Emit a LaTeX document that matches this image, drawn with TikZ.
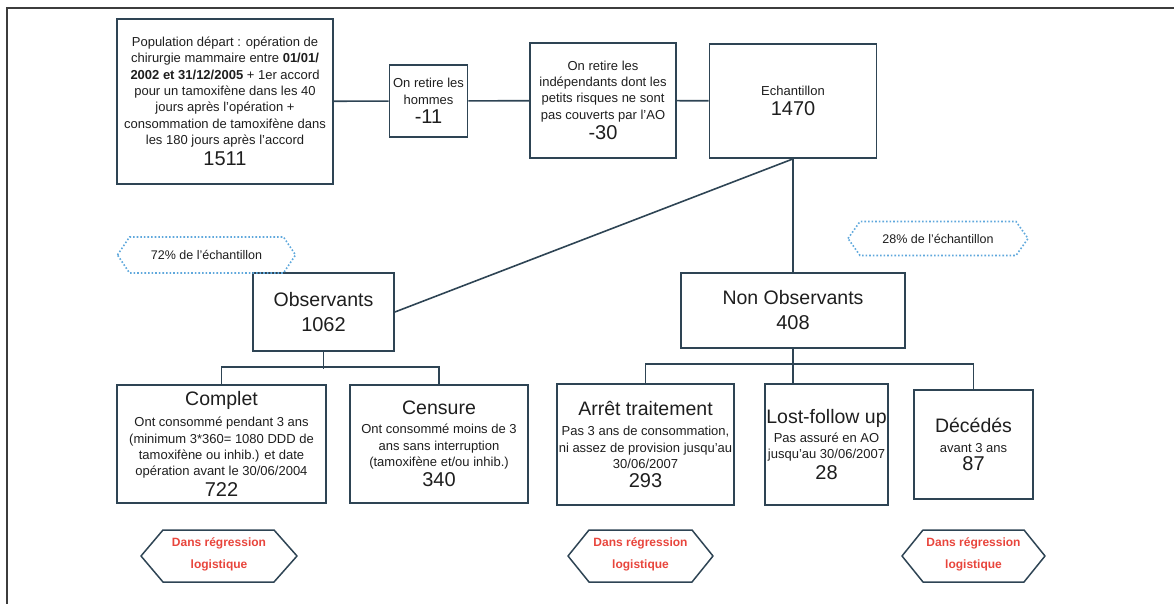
\documentclass[tikz,border=0pt]{standalone}
\usepackage{fontspec}
\setmainfont{Liberation Sans}
\usetikzlibrary{calc}
\definecolor{boxc}{HTML}{2E4454}
\definecolor{txt}{HTML}{1E1E1E}
\definecolor{dotc}{HTML}{5FA8DC}
\definecolor{redt}{HTML}{E8453C}
\definecolor{framec}{HTML}{3C3C3C}
\newcommand\numf{\fontsize{20}{22}\selectfont}
\newcommand\headf{\fontsize{19.5}{22}\selectfont}
\begin{document}
\begin{tikzpicture}[x=1pt,y=-1pt,
  box/.style={draw=boxc, line width=1.8pt, inner sep=0pt, align=center, text=txt, font=\fontsize{13}{16.3}\selectfont},
  bigbox/.style={box, font=\fontsize{19.5}{25}\selectfont},
  conn/.style={draw=boxc, line width=1.6pt},
  lbl/.style={inner sep=0pt, align=center, text=txt, font=\fontsize{12.5}{15}\selectfont},
  redlbl/.style={inner sep=0pt, align=center, text=redt, font=\bfseries\fontsize{12}{22}\selectfont},
  hexred/.style={draw=boxc, line width=1.5pt, line join=round},
  hexdot/.style={draw=dotc, line width=1.6pt, dotted},
]
\useasboundingbox (0,0) rectangle (1174,604);
\draw[framec, line width=1.6pt] (1174,8) -- (7,8) -- (7,604);

% top row
\node[box, minimum width=216pt, minimum height=165pt] (pop) at (225,101.5)
 {Population départ : opération de\\ chirurgie mammaire entre \textbf{01/01/}\\ \textbf{2002 et 31/12/2005} + 1er accord\\ pour un tamoxifène dans les 40\\ jours après l'opération +\\ consommation de tamoxifène dans\\ les 180 jours après l'accord\\[4pt] {\numf 1511}};
\node[box, minimum width=78pt, minimum height=72pt] (hom) at (428.5,101)
 {On retire les\\ hommes\\[3pt] {\numf -11}};
\node[box, minimum width=146pt, minimum height=115pt] (ind) at (603,100.5)
 {On retire les\\ indépendants dont les\\ petits risques ne sont\\ pas couverts par l'AO\\[3pt] {\numf -30}};
\node[box, minimum width=167pt, minimum height=114pt] (ech) at (793,101)
 {Echantillon\\[3pt] {\numf 1470}};

\draw[conn] (pop) -- (hom);
\draw[conn] (hom) -- (ind);
\draw[conn] (ind) -- (ech);

% level 2
\node[bigbox, minimum width=141pt, minimum height=78pt] (obs) at (323.5,312)
 {Observants\\ {\numf 1062}};
\node[bigbox, minimum width=224pt, minimum height=75pt] (nobs) at (793,310.5)
 {Non Observants\\ {\numf 408}};

\draw[conn] (ech.south) -- (obs.east);
\draw[conn] (ech.south) -- (nobs.north);

% dotted labels
\node[lbl] (p72) at (206.5,255) {72\% de l'échantillon};
\draw[hexdot] (117.5,255) -- (129.5,237) -- (283.5,237) -- (295.5,255) -- (283.5,273) -- (129.5,273) -- cycle;
\node[lbl] (p28) at (938,238.5) {28\% de l'échantillon};
\draw[hexdot] (848,238.5) -- (860,221.5) -- (1016,221.5) -- (1028,238.5) -- (1016,255.5) -- (860,255.5) -- cycle;

% level 3
\node[box, minimum width=209pt, minimum height=118pt] (comp) at (221.5,444)
 {{\headf Complet}\\[5pt] Ont consommé pendant 3 ans\\ (minimum 3*360= 1080 DDD de\\ tamoxifène ou inhib.) et date\\ opération avant le 30/06/2004\\[3pt] {\numf 722}};
\node[box, minimum width=178pt, minimum height=118pt] (cens) at (439,444)
 {{\headf Censure}\\[3pt] Ont consommé moins de 3\\ ans sans interruption\\ (tamoxifène et/ou inhib.)\\[3pt] {\numf 340}};
\node[box, minimum width=177pt, minimum height=121pt] (arr) at (645.5,444.5)
 {{\headf Arrêt traitement}\\[4pt] Pas 3 ans de consommation,\\ ni assez de provision jusqu'au\\ 30/06/2007\\[3pt] {\numf 293}};
\node[box, minimum width=123pt, minimum height=121pt] (lost) at (826.5,444.5)
 {{\headf Lost-follow up}\\[3pt] Pas assuré en AO\\ jusqu'au 30/06/2007\\[3pt] {\numf 28}};
\node[box, minimum width=119pt, minimum height=109pt] (dec) at (973.5,444.5)
 {{\headf Décédés}\\[3pt] avant 3 ans\\[2pt] {\numf 87}};

\draw[conn] (obs.south) -- ++(0,17) coordinate (obar);
\draw[conn] (comp.north) -- ++(0,-17) -| (cens.north);
\draw[conn] (nobs.south) -- (nobs.south |- lost.north);
\draw[conn] (arr.north) -- ++(0,-19) -| (dec.north);

% red hexagons
\node[redlbl] (r1) at (219,554) {Dans régression\\ logistique};
\draw[hexred] (141,556) -- (163,530) -- (274,530) -- (297,556) -- (274,582) -- (163,582) -- cycle;
\node[redlbl] (r2) at (640.5,554) {Dans régression\\ logistique};
\draw[hexred] (568,556) -- (589,530) -- (692,530) -- (713,556) -- (692,582) -- (589,582) -- cycle;
\node[redlbl] (r3) at (973.5,554) {Dans régression\\ logistique};
\draw[hexred] (902,556) -- (923,530) -- (1024,530) -- (1045,556) -- (1024,582) -- (923,582) -- cycle;
\end{tikzpicture}
\end{document}
